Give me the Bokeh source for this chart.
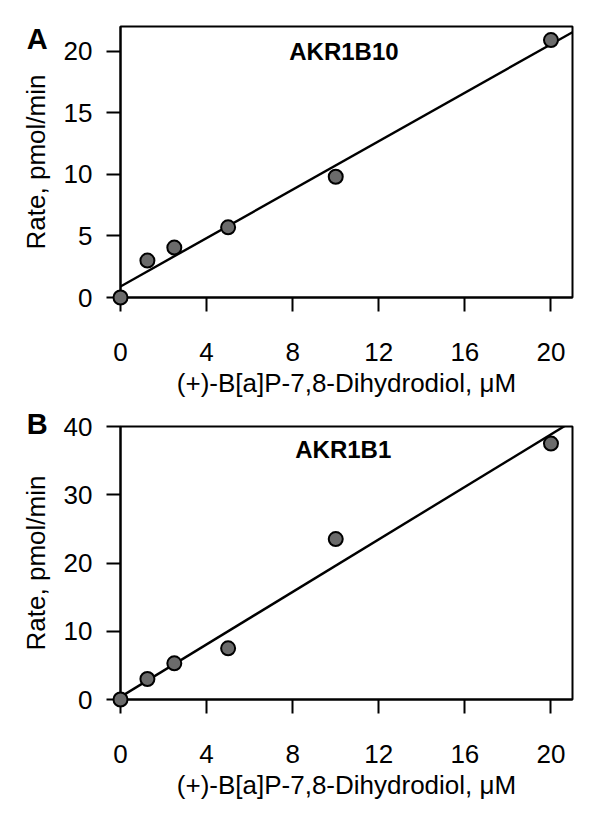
import numpy as np
from bokeh.plotting import figure
from bokeh.models import FixedTicker, Range1d, ColumnDataSource
from bokeh.core.properties import value
from bokeh.layouts import column
from bokeh.embed import file_html
from bokeh.resources import INLINE

# ---- data ----
conc_uM = [0, 1.25, 2.5, 5, 10, 20]
rate_akr1b10 = [0, 3.0, 4.05, 5.7, 9.8, 20.9]
rate_akr1b1 = [0, 3.0, 5.3, 7.5, 23.5, 37.5]
x_ticks = [0, 4, 8, 12, 16, 20]
y_ticks_a = [0, 5, 10, 15, 20]
y_ticks_b = [0, 10, 20, 30, 40]
x_range = (0, 21)
y_range_a = (0, 22)
y_range_b = (0, 40)
panel_letters = ["A", "B"]
enzymes = ["AKR1B10", "AKR1B1"]
x_title = "(+)-B[a]P-7,8-Dihydrodiol, \u03bcM"
y_title = "Rate, pmol/min"

FONT = "Liberation Sans"


def make_panel(x, y, yr, yticks, letter, enzyme, height, top, bottom,
               letter_pos, enzyme_pos):
    p = figure(width=600, height=height, output_backend="svg",
               toolbar_location=None,
               x_range=Range1d(*x_range), y_range=Range1d(*yr),
               min_border_left=120, min_border_right=28,
               min_border_top=top, min_border_bottom=bottom)
    p.grid.visible = False
    p.background_fill_color = "white"
    p.border_fill_color = "white"
    p.outline_line_color = "black"
    p.outline_line_width = 2
    p.outline_line_alpha = 1

    for ax in (p.xaxis[0], p.yaxis[0]):
        ax.axis_line_color = "black"
        ax.axis_line_width = 2
        ax.major_tick_line_color = "black"
        ax.major_tick_line_width = 2
        ax.major_tick_in = 0
        ax.major_tick_out = 14
        ax.minor_tick_line_color = None
        ax.major_label_text_font = FONT
        ax.major_label_text_font_size = "26px"
        ax.major_label_text_color = "black"
        ax.axis_label_text_font = FONT
        ax.axis_label_text_font_size = "26px"
        ax.axis_label_text_font_style = "normal"
        ax.axis_label_text_color = "black"

    p.xaxis.ticker = FixedTicker(ticks=x_ticks)
    p.yaxis.ticker = FixedTicker(ticks=yticks)
    p.xaxis.axis_label = x_title
    p.yaxis.axis_label = y_title
    p.xaxis.major_label_standoff = 31
    p.yaxis.major_label_standoff = 14
    p.xaxis.axis_label_standoff = 4
    p.yaxis.axis_label_standoff = 10

    # least-squares fit line across the x range
    slope, intercept = np.polyfit(np.array(x, float), np.array(y, float), 1)
    fx = np.array(x_range, float)
    p.line(fx, slope * fx + intercept, line_color="black", line_width=2.4)

    src = ColumnDataSource(dict(x=x, y=y))
    p.scatter("x", "y", source=src, size=14, fill_color="#6b6b6b",
              line_color="black", line_width=2, level="overlay")

    p.text(x=[letter_pos[0]], y=[letter_pos[1]], text=[letter],
           text_font=value(FONT), text_font_size="29px",
           text_font_style="bold", text_align="center",
           text_baseline="middle", text_color="black", level="overlay")
    p.text(x=[enzyme_pos[0]], y=[enzyme_pos[1]], text=[enzyme],
           text_font=value(FONT), text_font_size="24px",
           text_font_style="bold", text_align="center",
           text_baseline="middle", text_color="black")
    return p


pa = make_panel(conc_uM, rate_akr1b10, y_range_a, y_ticks_a,
                panel_letters[0], enzymes[0], 400, 26, 101,
                (-3.87, 20.95), (10.38, 20.0))
pb = make_panel(conc_uM, rate_akr1b1, y_range_b, y_ticks_b,
                panel_letters[1], enzymes[1], 413, 26, 114,
                (-3.87, 40.4), (10.35, 36.6))

layout = column(pa, pb, spacing=0)
open("out.html", "w").write(file_html(layout, INLINE))
